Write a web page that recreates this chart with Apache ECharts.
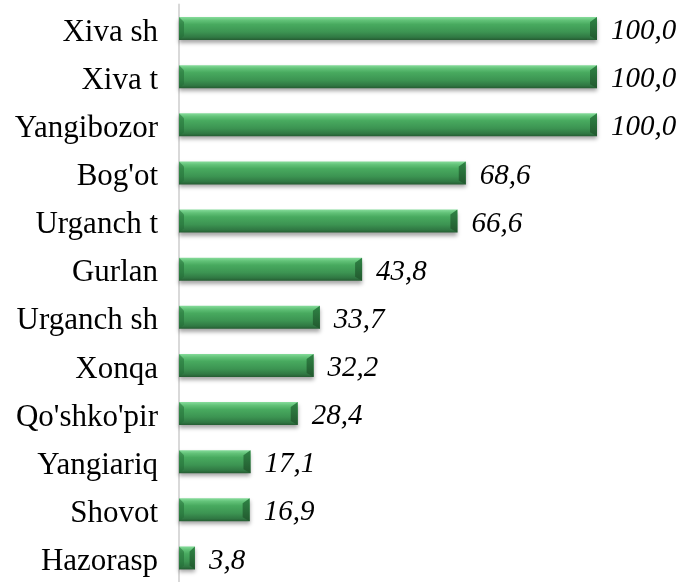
<!DOCTYPE html>
<html lang="en">
<head>
    <meta charset="UTF-8">
    <script type="text/javascript" src="https://cdn.jsdelivr.net/npm/echarts@6.0.0/dist/echarts.min.js"></script>
    <style>
        html, body {
            margin: 0;
            overflow: hidden;
            background: #fff;
        }
        #viewport {
            position: absolute;
            left: 0px;
            top: 0px;
            width: 683px;
            height: 582px;
        }
    </style>
</head>
<body>
<div id="viewport"></div>
<script>
    var categories = ['Xiva sh', 'Xiva t', 'Yangibozor', "Bog'ot", 'Urganch t', 'Gurlan',
        'Urganch sh', 'Xonqa', "Qo'shko'pir", 'Yangiariq', 'Shovot', 'Hazorasp'];
    var values = [100.0, 100.0, 100.0, 68.6, 66.6, 43.8, 33.7, 32.2, 28.4, 17.1, 16.9, 3.8];

    var myChart = echarts.init(document.getElementById('viewport'));
    var BAR_H = 23;

    var barGradient = new echarts.graphic.LinearGradient(0, 0, 0, 1, [
        { offset: 0, color: '#86dc9b' },
        { offset: 0.14, color: '#62c278' },
        { offset: 0.32, color: '#48aa5f' },
        { offset: 0.65, color: '#3c9452' },
        { offset: 0.88, color: '#307843' },
        { offset: 1, color: '#255c32' }
    ]);

    // bevel facets drawn over each bar end
    function renderBevel(params, api) {
        var idx = api.value(0);
        var p0 = api.coord([0, idx]);
        var p1 = api.coord([api.value(1), idx]);
        var top = p0[1] - BAR_H / 2, bot = p0[1] + BAR_H / 2;
        var x0 = p0[0], x1 = p1[0];
        var d = Math.min(7, (x1 - x0) / 3);
        return {
            type: 'group',
            children: [{
                type: 'polygon',
                shape: { points: [[x1, top], [x1, bot], [x1 - d, bot - 4], [x1 - d, top + 5]] },
                style: { fill: new echarts.graphic.LinearGradient(0, 0, 0, 1, [
                    { offset: 0, color: '#2f8445' }, { offset: 1, color: '#22582e' }]) }
            }, {
                type: 'polygon',
                shape: { points: [[x0, top], [x0 + 5, top + 5], [x0 + 5, bot - 4], [x0, bot]] },
                style: { fill: 'rgba(35,110,55,0.55)' }
            }]
        };
    }

    var option = {
        animation: false,
        grid: {
            left: 179,
            top: 4.5,
            width: 418,
            height: 588
        },
        xAxis: {
            type: 'value',
            min: 0,
            max: 100,
            show: false
        },
        yAxis: {
            type: 'category',
            data: categories,
            inverse: true,
            axisLine: { show: true, lineStyle: { color: '#d9d9d9', width: 2 } },
            axisTick: { show: false },
            axisLabel: {
                margin: 21,
                formatter: function (v) { return '{c|' + v + '}'; },
                rich: {
                    c: {
                        padding: [8, 0, 0, 0],
                        fontFamily: 'Liberation Serif',
                        fontSize: 31,
                        color: '#000'
                    }
                }
            }
        },
        series: [{
            type: 'bar',
            data: values,
            barWidth: BAR_H,
            z: 2,
            itemStyle: {
                color: barGradient,
                shadowColor: 'rgba(0,0,0,0.35)',
                shadowBlur: 4,
                shadowOffsetY: 3
            },
            label: {
                show: true,
                position: 'right',
                distance: 14,
                offset: [0, 3],
                fontFamily: 'Liberation Serif',
                fontStyle: 'italic',
                fontSize: 29,
                color: '#000',
                formatter: function (p) {
                    return p.value.toFixed(1).replace('.', ',');
                }
            }
        }, {
            type: 'custom',
            z: 3,
            silent: true,
            renderItem: renderBevel,
            data: values.map(function (v, i) { return [i, v]; }),
            encode: { y: 0, x: 1 }
        }]
    };
    myChart.setOption(option);
</script>
</body>
</html>
